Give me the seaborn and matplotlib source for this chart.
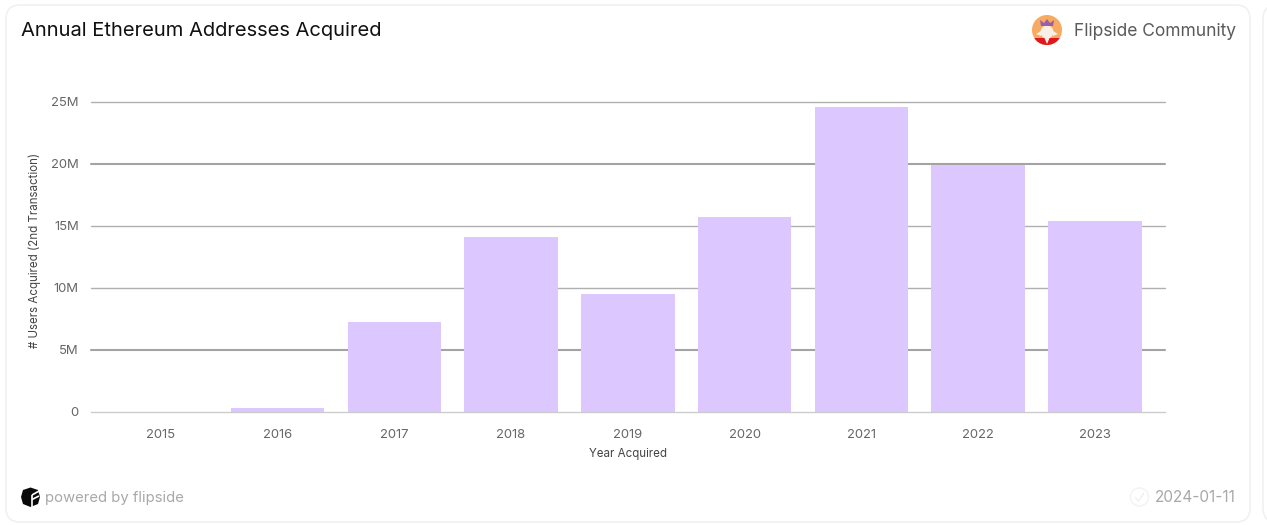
import matplotlib
matplotlib.use("Agg")
import matplotlib.pyplot as plt
from matplotlib.patches import FancyBboxPatch, Circle, Polygon, Rectangle, Ellipse
import pandas as pd
import seaborn as sns

years = ["2015", "2016", "2017", "2018", "2019", "2020", "2021", "2022", "2023"]
users = [10000, 310000, 7270000, 14130000, 9500000, 15730000, 24600000, 19930000, 15430000]
y_ticks = [0, 5000000, 10000000, 15000000, 20000000, 25000000]
y_tick_labels = ["0", "5M", "10M", "15M", "20M", "25M"]

sns.set_theme(style="white")
plt.rcParams["font.family"] = ["Inter", "DejaVu Sans"]

W, H = 1267, 525
fig = plt.figure(figsize=(W / 100, H / 100), dpi=100, facecolor="white")

# page furniture in pixel coordinates
bg = fig.add_axes([0, 0, 1, 1], zorder=0)
bg.set_xlim(0, W)
bg.set_ylim(H, 0)
bg.axis("off")
bg.add_patch(FancyBboxPatch((6, 5), 1244, 517, boxstyle="round,pad=0,rounding_size=14",
                            fc="white", ec="#f0f0f0", lw=1.1))
bg.add_patch(FancyBboxPatch((1263, 5), 40, 517, boxstyle="round,pad=0,rounding_size=14",
                            fc="white", ec="#f0f0f0", lw=1.1))

bg.text(21, 31.5, "Annual Ethereum Addresses Acquired", fontsize=14.5, color="#111111",
        va="center", ha="left")
bg.text(1235.5, 31.5, "Flipside Community", fontsize=12.55, color="#5a5a5a", va="center", ha="right")
bg.text(45, 498, "powered by flipside", fontsize=10.7, color="#a8a8a8", va="center", ha="left")
bg.text(1235.5, 498, "2024-01-11", fontsize=11.0, color="#a8a8a8", va="center", ha="right")

# avatar
disc = Circle((1047, 30), 15, fc="#f7ab62", ec="none")
bg.add_patch(disc)
for p in [Rectangle((1032, 38), 30, 8, fc="#e3161b", ec="none"),
          Ellipse((1047, 32), 13, 13, fc="#f8f0e6", ec="none"),
          Polygon([(1036, 34), (1041, 31), (1041, 36)], fc="#f8f0e6", ec="none"),
          Polygon([(1058, 34), (1053, 31), (1053, 36)], fc="#f8f0e6", ec="none"),
          Polygon([(1044, 37), (1050, 37), (1047, 44)], fc="#f8f0e6", ec="none"),
          Polygon([(1041, 26), (1040, 20), (1044, 23), (1047, 19), (1050, 23), (1054, 20), (1053, 26)],
                  fc="#9a5fa8", ec="none")]:
    bg.add_patch(p)
    p.set_clip_path(disc)

# flipside mark
bg.add_patch(Polygon([(30.5, 487.5), (38, 490), (40, 497), (38, 504), (30.5, 507), (23, 504), (21, 497), (23, 490)],
                     fc="#0a0a0a", ec="none"))
bg.plot([32, 40], [495, 490.5], color="white", lw=1.2, solid_capstyle="butt")
bg.plot([32, 39], [499.5, 496], color="white", lw=1.2, solid_capstyle="butt")
bg.plot([32, 32], [495, 507], color="white", lw=1.2, solid_capstyle="butt")

# check badge
bg.add_patch(Circle((1139.5, 497), 9, fc="white", ec="#f3f3f3", lw=1.1))
bg.plot([1135.5, 1138.5, 1144], [497.5, 501, 493], color="#ececec", lw=0.8)

# chart
ax = fig.add_axes([90.6 / W, (H - 412) / H, 1074.4 / W, (412 - 102) / H], zorder=1)
ax.patch.set_alpha(0)
df = pd.DataFrame({"Year Acquired": years, "users": users})
sns.barplot(data=df, x="Year Acquired", y="users", color="#dcc8fe", saturation=1,
            width=0.8, linewidth=0, ax=ax, zorder=3)
ax.set_xlim(-0.6, 8.6)
ax.set_ylim(0, 25000000)
ax.set_yticks(y_ticks, y_tick_labels)
ax.set_axisbelow(True)
ax.grid(False)
for v in y_ticks[1:]:
    thick = v in (5000000, 20000000)
    ax.axhline(v, color="#a3a3a3" if thick else "#b0b0b0", lw=1.5 if thick else 1.0, zorder=1, clip_on=False)

for s in ["top", "left", "right"]:
    ax.spines[s].set_visible(False)
ax.spines["bottom"].set_color("#cccccc")
ax.spines["bottom"].set_linewidth(1)
ax.spines["bottom"].set_zorder(4)
ax.tick_params(axis="x", length=7, width=0.8, color="#cccccc", labelcolor="#666666",
               labelsize=9.4, pad=5)
ax.tick_params(axis="y", length=0, labelcolor="#666666", labelsize=9.4, pad=8.5)
ax.set_xlabel("Year Acquired", fontsize=8.3, color="#444444", labelpad=5.5)
ax.set_ylabel("# Users Acquired (2nd Transaction)", fontsize=8.3, color="#444444")
ax.yaxis.set_label_coords((40 - 90) / (1165 - 90), (412 - 250) / (412 - 102))

fig.savefig("out.png", dpi=100)
